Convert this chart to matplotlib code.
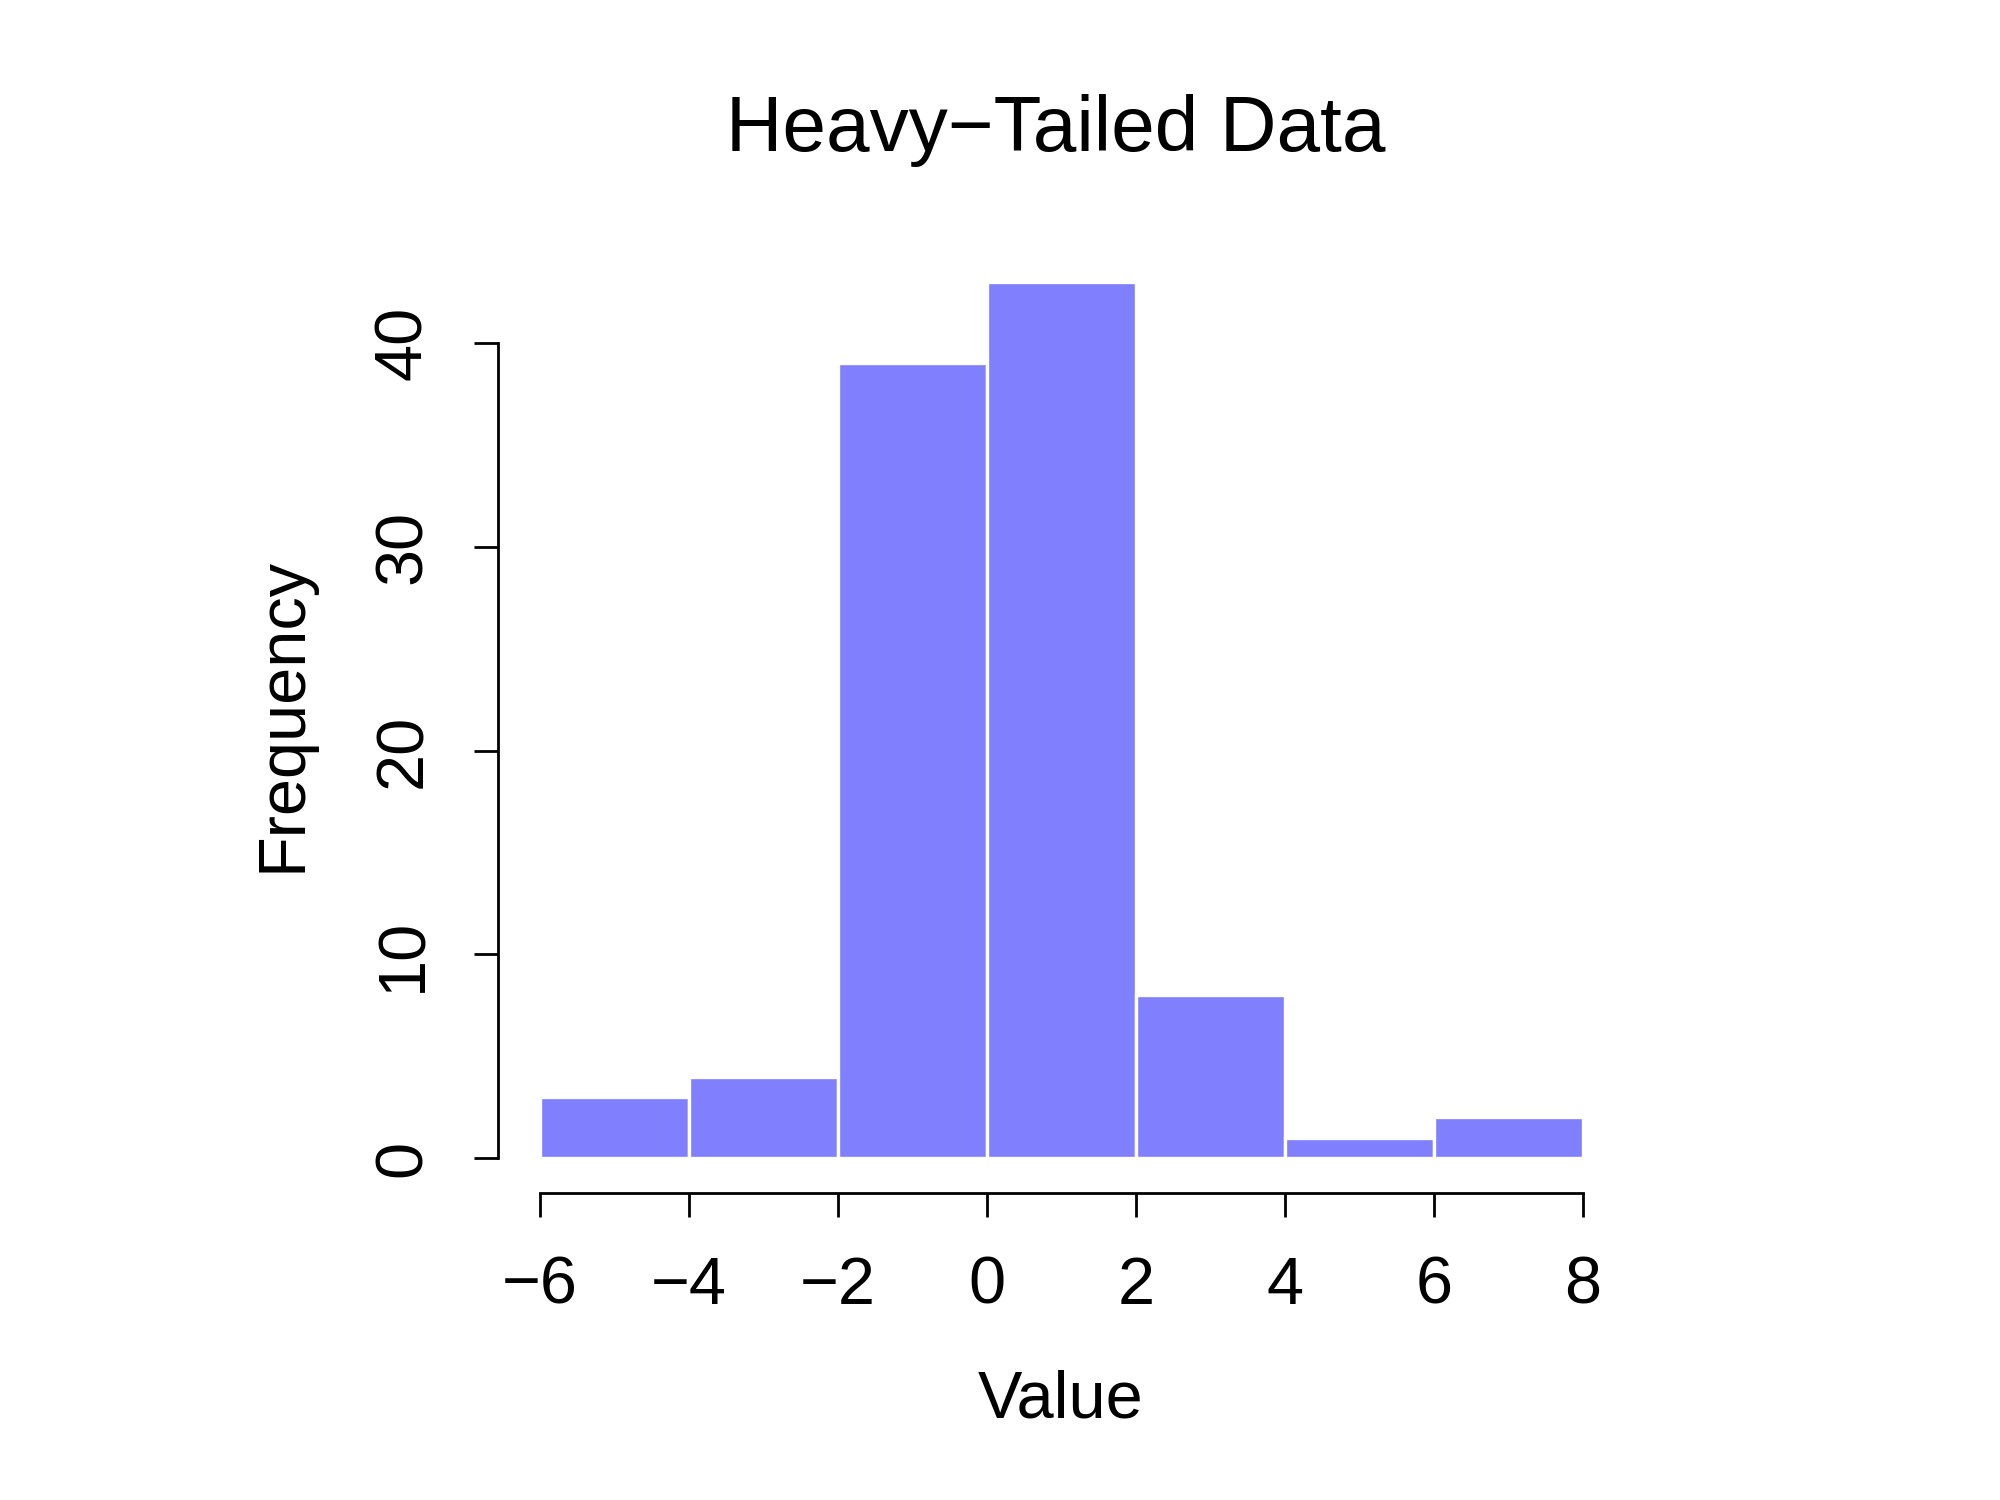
import matplotlib
matplotlib.use("Agg")
import matplotlib.pyplot as plt
import numpy as np

bin_edges = [-6, -4, -2, 0, 2, 4, 6, 8]
counts = [3, 4, 39, 43, 8, 1, 2]
x_ticks = [-6, -4, -2, 0, 2, 4, 6, 8]
y_ticks = [0, 10, 20, 30, 40]
title = "Heavy\u2212Tailed Data"
xlabel = "Value"
ylabel = "Frequency"

plt.rcParams['font.family'] = ['Liberation Sans', 'DejaVu Sans']
plt.rcParams['axes.unicode_minus'] = True

fig = plt.figure(figsize=(10, 7.5), dpi=200)
ax = fig.add_axes([0.2489, 0.2045, 0.8123 - 0.2489, 0.8354 - 0.2045])

edges = np.array(bin_edges, dtype=float)
widths = np.diff(edges)
ax.bar(edges[:-1], counts, width=widths, align='edge', color='#8080FF',
       edgecolor='white', linewidth=1.2)

xr = edges[-1] - edges[0]
ax.set_xlim(edges[0] - 0.04 * xr, edges[-1] + 0.04 * xr)
ymax = max(counts)
ax.set_ylim(-0.04 * ymax, ymax * 1.04)

for s in ['top', 'right']:
    ax.spines[s].set_visible(False)
ax.spines['left'].set_bounds(y_ticks[0], y_ticks[-1])
ax.spines['bottom'].set_bounds(x_ticks[0], x_ticks[-1])
for s in ['left', 'bottom']:
    ax.spines[s].set_linewidth(1.0)

ax.set_xticks(x_ticks)
ax.set_xticklabels([str(v).replace('-', '\u2212') for v in x_ticks])
ax.set_yticks(y_ticks)
ax.set_yticklabels([str(v) for v in y_ticks], rotation=90, va='center')
ax.tick_params(axis='both', direction='out', length=8.5, width=1.0,
               labelsize=24)
ax.tick_params(axis='x', pad=14)
ax.tick_params(axis='y', pad=14)

fig.text(0.528, 0.913, title, ha='center', va='center', fontsize=28.2)
fig.text(0.5305, 0.066, xlabel, ha='center', va='center', fontsize=24)
fig.text(0.142, 0.5235, ylabel, ha='center', va='center', fontsize=24,
         rotation=90)

fig.savefig("out.png", dpi=200)
